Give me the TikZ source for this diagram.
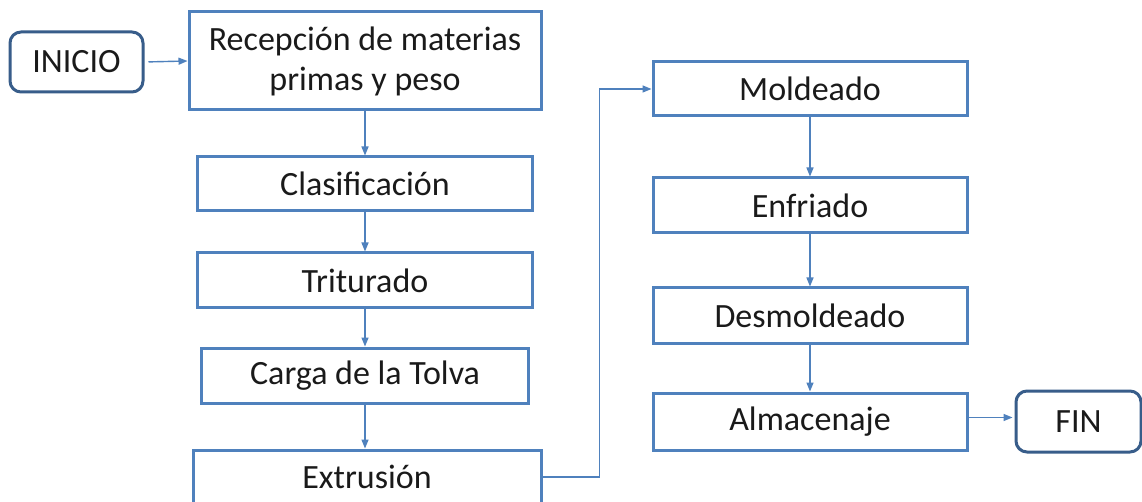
\documentclass[tikz,border=0pt]{standalone}
\usepackage{fontspec}
\setmainfont{Carlito}
\usetikzlibrary{arrows.meta}
\definecolor{boxblue}{HTML}{4F81BD}
\definecolor{termblue}{HTML}{385D8A}
\definecolor{txt}{HTML}{1A1A1A}
\begin{document}
\begin{tikzpicture}[x=1pt,y=-1pt,
  proc/.style={draw=boxblue, line width=3pt, rectangle, align=center, inner sep=0pt, text=txt,
    font=\fontsize{34}{40}\selectfont},
  term/.style={draw=termblue, line width=3pt, rectangle, rounded corners=11pt, align=center, inner sep=0pt, text=txt,
    font=\fontsize{34}{40}\selectfont},
  arr/.style={draw=boxblue, line width=1.4pt, -{Triangle[length=9pt,width=7pt]}}]
\fill[white] (0,0) rectangle (1142,502);
\useasboundingbox (0,0) rectangle (1142,502);
% left column
\node[term, minimum width=133pt, minimum height=60pt] (inicio) at (76.5,62) {INICIO};
\node[proc, minimum width=352pt, minimum height=98pt] (rec) at (365,61) {Recepción de materias\\primas y peso};
\node[proc, minimum width=335pt, minimum height=54pt] (clas) at (365,184) {Clasificación};
\node[proc, minimum width=335pt, minimum height=55pt] (trit) at (365,280.5) {Triturado};
\node[proc, minimum width=327pt, minimum height=55pt] (carga) at (365,375.5) {Carga de la Tolva};
\node[proc, minimum width=348pt, minimum height=54pt] (extr) at (367,477) {Extrusión};
% right column
\node[proc, minimum width=314pt, minimum height=54pt] (mold) at (810,89) {Moldeado};
\node[proc, minimum width=314pt, minimum height=55pt] (enf) at (810,205.5) {Enfriado};
\node[proc, minimum width=314pt, minimum height=55pt] (desm) at (810,315.5) {Desmoldeado};
\node[proc, minimum width=314pt, minimum height=57pt] (alm) at (810,421.5) {Almacenaje};
\node[term, minimum width=125pt, minimum height=61pt] (fin) at (1078.5,421.5) {FIN};
% connectors
\draw[arr, shorten <=4pt] (inicio.east) -- (rec.west);
\draw[arr] (rec.south) -- (clas.north);
\draw[arr] (clas.south) -- (trit.north);
\draw[arr] (trit.south) -- (carga.north);
\draw[arr] (carga.south) -- (carga.south |- extr.north);
\draw[arr] (extr.east) -- ++(57,0) |- (mold.west);
\draw[arr] (mold.south) -- (enf.north);
\draw[arr] (enf.south) -- (desm.north);
\draw[arr] (desm.south) -- (alm.north);
\draw[arr, shorten >=2pt] ([yshift=4pt]alm.east) -- ([yshift=4pt]fin.west);
\end{tikzpicture}
\end{document}
